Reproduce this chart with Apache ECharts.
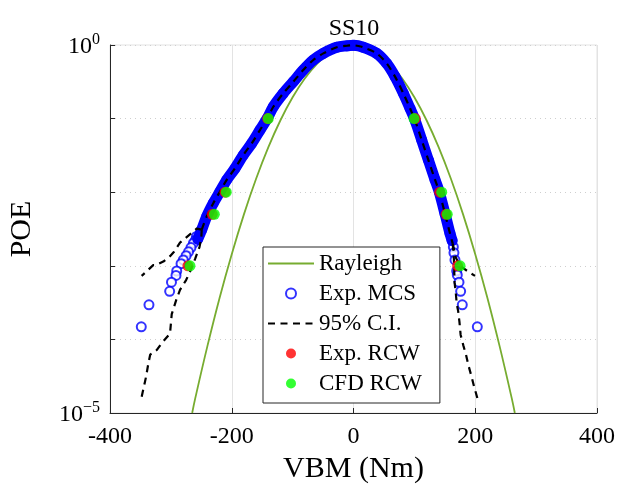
<!DOCTYPE html>
<html>
<head>
<meta charset="utf-8">
<script src="https://cdn.jsdelivr.net/npm/echarts@6.0.0/dist/echarts.min.js"></script>
<style>
html, body { margin: 0; padding: 0; background: #fff; }
#chart { width: 619px; height: 488px; }
</style>
</head>
<body>
<div id="chart"></div>
<script>
const font = "'Liberation Serif', 'Times New Roman', serif"

// values: [VBM (Nm), POE]
const rayleigh = [
    [-265, 1e-5], [-260, 1.58e-5], [-240, 8.1e-5], [-220, 3.66e-4], [-200, 1.44e-3],
    [-180, 5.0e-3], [-160, 1.52e-2], [-140, 4.06e-2], [-120, 9.5e-2], [-100, 0.195],
    [-80, 0.351], [-60, 0.555], [-40, 0.77], [-20, 0.937], [0, 1],
    [20, 0.937], [40, 0.77], [60, 0.555], [80, 0.351], [100, 0.195],
    [120, 9.5e-2], [140, 4.06e-2], [160, 1.52e-2], [180, 5.0e-3], [200, 1.44e-3],
    [220, 3.66e-4], [240, 8.1e-5], [260, 1.58e-5], [265, 1e-5]
]

const mcsTrough = [
    [-1, 0.99], [-10, 0.975], [-27.6, 0.931], [-49.6, 0.77], [-66, 0.625], [-82.5, 0.457],
    [-98.9, 0.317], [-115.3, 0.221], [-131.7, 0.145], [-141.6, 0.101], [-153.6, 0.070],
    [-167.2, 0.0461], [-181, 0.032], [-194.6, 0.0211], [-208.3, 0.0147], [-219.3, 0.0102],
    [-230.3, 0.0071], [-241.1, 0.0047], [-249.3, 0.0031], [-256, 0.0023]
]
const mcsTroughTail = [
    [-258, 2.5e-3], [-260, 2.2e-3], [-263, 2.03e-3], [-267, 1.77e-3], [-271, 1.55e-3],
    [-275, 1.37e-3], [-279.6, 1.2e-3], [-283.3, 1.07e-3], [-290.4, 8.5e-4], [-291.6, 7.4e-4],
    [-299, 6e-4], [-302, 4.5e-4], [-336, 2.95e-4], [-348.6, 1.48e-4]
]
const mcsPeak = [
    [1, 0.99], [16, 0.931], [38, 0.77], [54.5, 0.562], [68.2, 0.372], [81.8, 0.221],
    [92.8, 0.138], [101, 0.0955], [112, 0.0513], [122.9, 0.0275], [133.9, 0.0148],
    [141, 0.01], [150.3, 0.0051], [158.5, 0.00275], [162, 0.0022]
]
const mcsPeakTail = [
    [164, 1.8e-3], [165, 1.5e-3], [166.7, 1.2e-3], [169.5, 8.5e-4], [170.5, 7.5e-4],
    [173.3, 6e-4], [176, 4.5e-4], [178.7, 2.95e-4], [203.4, 1.48e-4]
]

const ciCentre = [
    [-249.3, 0.0031], [-241.1, 0.0047], [-230.3, 0.0071], [-219.3, 0.0102], [-208.3, 0.0147],
    [-194.6, 0.0211], [-181, 0.032], [-167.2, 0.0461], [-153.6, 0.070], [-141.6, 0.101],
    [-131.7, 0.145], [-115.3, 0.221], [-98.9, 0.317], [-82.5, 0.457], [-66, 0.625],
    [-49.6, 0.77], [-27.6, 0.931], [-10, 0.98], [0, 0.99], [8, 0.97], [16, 0.931],
    [38, 0.77], [54.5, 0.562], [68.2, 0.372], [81.8, 0.221], [92.8, 0.138], [101, 0.0955],
    [112, 0.0513], [122.9, 0.0275], [133.9, 0.0148], [141, 0.01], [150.3, 0.0051],
    [158.5, 0.00275], [163, 0.002]
]
const ciTroughOuter = [
    [-249.3, 0.0031], [-257.6, 3.2e-3], [-279.6, 2.24e-3], [-285, 2.06e-3], [-294.8, 1.55e-3],
    [-301.4, 1.35e-3], [-312.4, 1.14e-3], [-324.4, 1.02e-3], [-329, 1.02e-3], [-348, 7.3e-4]
]
const ciTroughInner = [
    [-249.3, 0.0031], [-250, 2.4e-3], [-253, 1.8e-3], [-260, 1.25e-3], [-268.6, 8.3e-4],
    [-275, 6.4e-4], [-285, 4.7e-4], [-290.4, 3.6e-4], [-298.6, 2.2e-4], [-301.4, 1.2e-4],
    [-315, 8.9e-5], [-323, 7.2e-5], [-334, 6.2e-5], [-337, 4.7e-5], [-340.8, 3.1e-5],
    [-348, 1.66e-5]
]
const ciPeakOuter = [
    [163, 0.002], [168, 1.3e-3], [175, 1.0e-3], [188.6, 8.3e-4], [199.6, 7.3e-4]
]
const ciPeakInner = [
    [163, 0.002], [165, 1.2e-3], [166, 6e-4], [168, 4.3e-4], [169.5, 3.1e-4], [172, 2.4e-4],
    [174, 1.74e-4], [176, 1.15e-4], [180.4, 8.3e-5], [184.8, 6.2e-5], [188.6, 4.5e-5],
    [194, 3.1e-5], [198, 2.3e-5], [203.4, 1.6e-5]
]

const expRcw = [
    [-141, 0.1], [-211, 0.01], [-232, 0.005], [-272, 0.001],
    [101.5, 0.1], [141.5, 0.01], [152, 0.005], [171, 0.001]
]
const cfdRcw = [
    [-140, 0.1], [-209, 0.01], [-228.6, 0.005], [-268.6, 0.001],
    [99.4, 0.1], [144.9, 0.01], [154, 0.005], [175, 0.001]
]

const mcsAll = mcsTrough.concat(mcsTroughTail, mcsPeak, mcsPeakTail)
const mcsBand = mcsTrough.slice().reverse().concat(mcsPeak)

const ciStyle = { color: '#000', width: 2.2, type: [7, 5.5] }
function ciSeries(data, smooth) {
    return {
        name: '95% C.I.', type: 'line', data: data, symbol: 'none', smooth: smooth,
        lineStyle: ciStyle, itemStyle: { color: '#000' }, z: 4
    }
}

const chart = echarts.init(document.getElementById('chart'))
chart.setOption({
    animation: false,
    title: {
        text: 'SS10', left: 354, top: 17, textAlign: 'center', padding: 0,
        textStyle: { fontFamily: font, fontSize: 24, fontWeight: 'normal', color: '#000' }
    },
    grid: {
        left: 110, right: 22, top: 45, bottom: 75, outerBoundsMode: 'none', containLabel: false,
        show: true, borderColor: '#e3e3e3', borderWidth: 1
    },
    legend: {
        data: [
            { name: 'Rayleigh', itemStyle: { opacity: 0 } },
            { name: 'Exp. MCS' },
            { name: '95% C.I.', itemStyle: { opacity: 0 } },
            { name: 'Exp. RCW' },
            { name: 'CFD RCW' }
        ],
        orient: 'vertical', left: 263, top: 247,
        itemWidth: 46, itemHeight: 10, itemGap: 7,
        padding: [5, 18, 8, 4],
        borderColor: '#262626', borderWidth: 1, backgroundColor: '#fff',
        selectedMode: false,
        textStyle: { fontFamily: font, fontSize: 23, color: '#000' }
    },
    xAxis: {
        type: 'value', min: -400, max: 400, interval: 200,
        axisLine: { onZero: false, lineStyle: { color: '#262626', width: 1 } },
        axisTick: { inside: true, length: 5, lineStyle: { color: '#262626' } },
        axisLabel: { fontFamily: font, fontSize: 24, color: '#000', margin: 12, formatter: v => String(v) },
        splitLine: { show: true, lineStyle: { color: '#e3e3e3', width: 1 } },
        name: 'VBM (Nm)', nameLocation: 'middle', nameGap: 40,
        nameTextStyle: { fontFamily: font, fontSize: 30, color: '#000' }
    },
    yAxis: {
        type: 'log', logBase: 10, min: 1e-5, max: 1,
        axisLine: { show: true, onZero: false, lineStyle: { color: '#262626', width: 1 } },
        axisTick: { show: true, inside: true, length: 5, lineStyle: { color: '#262626' } },
        axisLabel: {
            fontFamily: font, color: '#000', margin: 10,
            formatter: function (v) {
                const e = Math.round(Math.log10(v))
                if (e === 0) return '{b|10}{s|0}'
                if (e === -5) return '{b|10}{s|\u22125}'
                return ''
            },
            rich: {
                b: { fontFamily: font, fontSize: 24, color: '#000', verticalAlign: 'bottom', padding: [3, 0, 0, 0] },
                s: { fontFamily: font, fontSize: 16, color: '#000', verticalAlign: 'top' }
            }
        },
        splitLine: { show: true, lineStyle: { color: '#cfcfcf', width: 1, type: [1, 4] } },
        name: 'POE', nameLocation: 'middle', nameGap: 73,
        nameTextStyle: { fontFamily: font, fontSize: 30, color: '#000' }
    },
    series: [
        {
            name: 'Rayleigh', type: 'line', data: rayleigh, symbol: 'none', smooth: 0.4,
            lineStyle: { color: '#77ac30', width: 1.8 }, itemStyle: { color: '#77ac30' }, z: 2
        },
        {
            name: 'Exp. MCS', type: 'scatter', data: mcsAll, symbol: 'emptyCircle', symbolSize: 9,
            itemStyle: { color: '#0000ff', borderColor: '#0000ff', borderWidth: 1 }, z: 2.5
        },
        {
            name: 'Exp. MCS', type: 'line', data: mcsBand, symbol: 'none', smooth: 0.3,
            lineStyle: { color: '#0000ff', width: 11, cap: 'round' }, z: 3
        },
        ciSeries(ciCentre, 0.3),
        ciSeries(ciTroughOuter, false),
        ciSeries(ciTroughInner, false),
        ciSeries(ciPeakOuter, false),
        ciSeries(ciPeakInner, false),
        {
            name: 'Exp. RCW', type: 'scatter', data: expRcw, symbol: 'circle', symbolSize: 11,
            itemStyle: { color: '#ff0000' }, z: 5
        },
        {
            name: 'CFD RCW', type: 'scatter', data: cfdRcw, symbol: 'circle', symbolSize: 11,
            itemStyle: { color: '#00ff00' }, z: 6
        }
    ]
})
</script>
</body>
</html>
